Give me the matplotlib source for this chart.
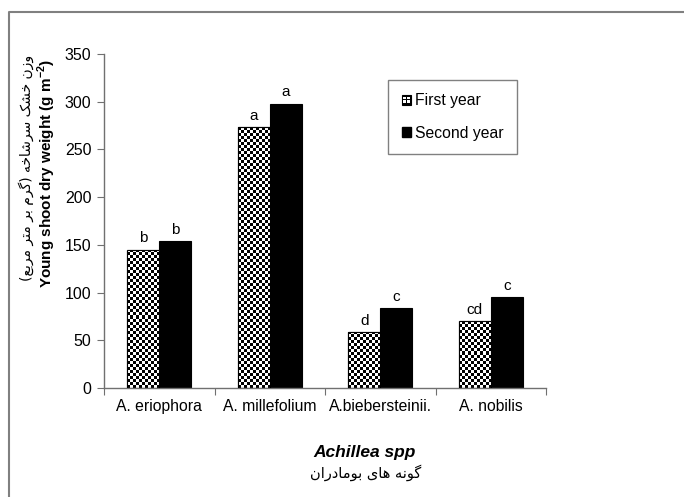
import numpy as np
import matplotlib
matplotlib.use("Agg")
import matplotlib.pyplot as plt
from matplotlib.legend_handler import HandlerBase
from matplotlib.patches import Rectangle
from matplotlib.lines import Line2D

plt.rcParams['font.family'] = ['Liberation Sans', 'DejaVu Sans']

species = ['A. eriophora', 'A. millefolium', 'A.biebersteinii.', 'A. nobilis']
first_year = [145, 273, 59, 70]
second_year = [154, 298, 84, 95]
first_letters = ['b', 'a', 'd', 'cd']
second_letters = ['b', 'a', 'c', 'c']
yticks = [0, 50, 100, 150, 200, 250, 300, 350]

ylabel_fa = 'وزن خشک سرشاخه (گرم بر متر مربع)'
xlabel_fa = 'گونه های بومادران'

# Arabic presentation forms: isolated, final, initial, medial
FORMS = {
    'ا': (0xFE8D, 0xFE8E, None, None),
    'ب': (0xFE8F, 0xFE90, 0xFE91, 0xFE92),
    'ت': (0xFE95, 0xFE96, 0xFE97, 0xFE98),
    'خ': (0xFEA5, 0xFEA6, 0xFEA7, 0xFEA8),
    'د': (0xFEA9, 0xFEAA, None, None),
    'ر': (0xFEAD, 0xFEAE, None, None),
    'ز': (0xFEAF, 0xFEB0, None, None),
    'س': (0xFEB1, 0xFEB2, 0xFEB3, 0xFEB4),
    'ش': (0xFEB5, 0xFEB6, 0xFEB7, 0xFEB8),
    'ع': (0xFEC9, 0xFECA, 0xFECB, 0xFECC),
    'م': (0xFEE1, 0xFEE2, 0xFEE3, 0xFEE4),
    'ن': (0xFEE5, 0xFEE6, 0xFEE7, 0xFEE8),
    'ه': (0xFEE9, 0xFEEA, 0xFEEB, 0xFEEC),
    'و': (0xFEED, 0xFEEE, None, None),
    'ک': (0xFB8E, 0xFB8F, 0xFB90, 0xFB91),
    'گ': (0xFB92, 0xFB93, 0xFB94, 0xFB95),
    'ی': (0xFBFC, 0xFBFD, 0xFBFE, 0xFBFF),
}


def shape_rtl(text):
    # join letters into presentation forms, then reverse for LTR drawing
    out = []
    for i, ch in enumerate(text):
        if ch not in FORMS:
            out.append(ch)
            continue
        prev = text[i - 1] if i > 0 else ''
        nxt = text[i + 1] if i + 1 < len(text) else ''
        join_prev = prev in FORMS and FORMS[prev][2] is not None
        join_next = FORMS[ch][2] is not None and nxt in FORMS
        iso, fin, ini, med = FORMS[ch]
        if join_prev and join_next:
            code = med
        elif join_prev:
            code = fin
        elif join_next:
            code = ini
        else:
            code = iso
        out.append(chr(code))
    vis = ''.join(reversed(out))
    return vis.translate(str.maketrans('()', ')('))


class CheckerHandler(HandlerBase):
    def create_artists(self, legend, orig_handle, xdescent, ydescent,
                       width, height, fontsize, trans):
        s = min(width, height)
        x0 = -xdescent + (width - s) / 2
        y0 = -ydescent + (height - s) / 2
        arts = [Rectangle((x0, y0), s, s, facecolor='black',
                          edgecolor='black', lw=0.8, transform=trans)]
        q = s * 0.3
        for fx in (0.15, 0.55):
            for fy in (0.15, 0.55):
                arts.append(Rectangle((x0 + fx * s, y0 + fy * s), q, q,
                                      facecolor='white', lw=0, transform=trans))
        return arts


fig = plt.figure(figsize=(6.84, 4.97), dpi=100)
ax = fig.add_axes([104 / 684, 1 - 388 / 497, 442 / 684, 334 / 497])

x = np.arange(len(species))
w = 0.29
bars1 = ax.bar(x - w / 2, first_year, w, color='white', edgecolor='black', lw=0.8, zorder=2)
bars2 = ax.bar(x + w / 2, second_year, w, color='black', edgecolor='black', lw=0.8, zorder=2)

ax.set_xlim(-0.5, len(species) - 0.5)
ax.set_ylim(0, 350)

# checker fill for first year bars
px_x = ax.bbox.width / (ax.get_xlim()[1] - ax.get_xlim()[0])
px_y = ax.bbox.height / (ax.get_ylim()[1] - ax.get_ylim()[0])
cell = 3.0
for b in bars1:
    bx, bw, bh = b.get_x(), b.get_width(), b.get_height()
    nx = max(1, int(round(bw * px_x / cell)))
    ny = max(1, int(round(bh * px_y / cell)))
    board = np.indices((ny, nx)).sum(axis=0) % 2
    im = ax.imshow(board, cmap='gray', extent=(bx, bx + bw, 0, bh), origin='lower',
                   interpolation='nearest', aspect='auto', zorder=2.5)
    im.set_clip_path(b)
    ax.add_patch(Rectangle((bx, 0), bw, bh, fill=False, edgecolor='black', lw=0.8, zorder=3))

ax.set_xlim(-0.5, len(species) - 0.5)
ax.set_ylim(0, 350)

for bs, letters in [(bars1, first_letters), (bars2, second_letters)]:
    for b, t in zip(bs, letters):
        ax.annotate(t, (b.get_x() + b.get_width() / 2, b.get_height()),
                    xytext=(0, 3), textcoords='offset points',
                    ha='center', va='bottom', fontsize=11)

for sp in ['top', 'right']:
    ax.spines[sp].set_visible(False)
for sp in ['left', 'bottom']:
    ax.spines[sp].set_color('#707070')
    ax.spines[sp].set_linewidth(1.0)

ax.set_yticks(yticks)
ax.set_xticks(np.arange(-0.5, len(species), 1.0))
ax.set_xticklabels([])
ax.set_xticks(x, minor=True)
ax.set_xticklabels(species, minor=True)
ax.tick_params(axis='x', which='minor', length=0, pad=8, labelsize=11.3)
ax.tick_params(axis='x', which='major', length=5, color='#707070', direction='out')
ax.tick_params(axis='y', length=5, color='#707070', direction='out', labelsize=11.5, pad=4)

handles = [Rectangle((0, 0), 1, 1), Rectangle((0, 0), 1, 1, color='black')]
leg = ax.legend(handles, ['First year', 'Second year'],
                handler_map={handles[0]: CheckerHandler()},
                loc='upper left', bbox_to_anchor=(0.643, 0.922),
                fontsize=11.3, frameon=True, fancybox=False,
                edgecolor='#606060', borderpad=0.85, labelspacing=1.1,
                handlelength=0.6, handleheight=0.6, handletextpad=0.25,
                borderaxespad=0)
leg.get_frame().set_linewidth(1.0)

fig.text(47 / 684, 1 - 173 / 497, 'Young shoot dry weight (g m$^{\\mathregular{-2}}$)', rotation=90,
         ha='center', va='center', fontsize=11, fontweight='bold')
fig.text(26 / 684, 1 - 168 / 497, shape_rtl(ylabel_fa), rotation=90,
         ha='center', va='center', fontsize=10, family=['DejaVu Sans'])
fig.text(365 / 684, 1 - 453 / 497, 'Achillea spp', ha='center', va='center',
         fontsize=12.5, fontweight='bold', style='italic')
fig.text(366 / 684, 1 - 473 / 497, shape_rtl(xlabel_fa), ha='center', va='center',
         fontsize=10.5, family=['DejaVu Sans'])

# figure frame (left and top edges)
fig.add_artist(Line2D([9 / 684, 9 / 684, 1], [0, 1 - 12 / 497, 1 - 12 / 497],
                      transform=fig.transFigure, color='#808080', lw=1.5))

fig.savefig('out.png', dpi=100)
